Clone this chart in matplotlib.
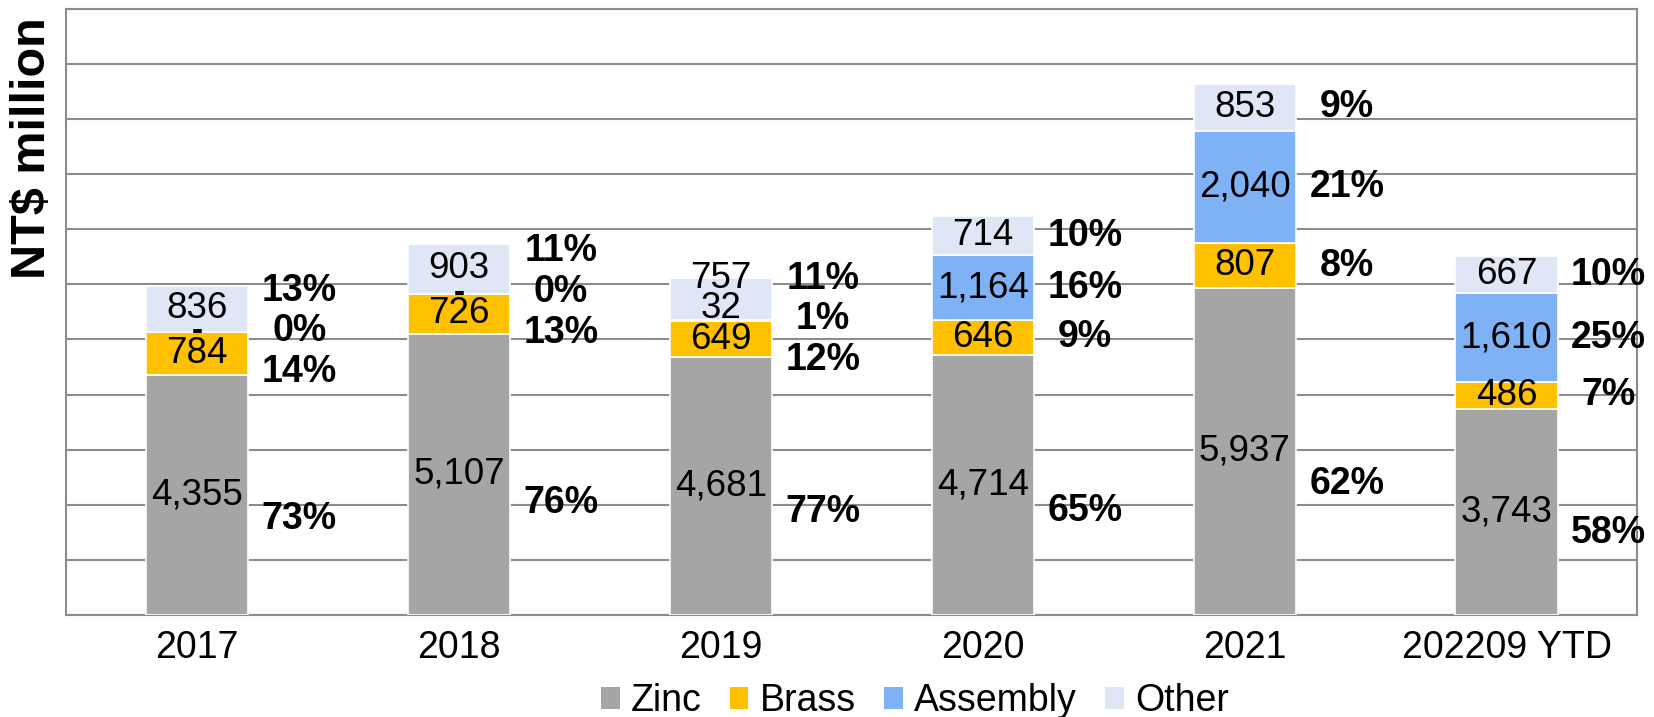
import matplotlib
matplotlib.use('Agg')
import matplotlib.pyplot as plt
import numpy as np
from matplotlib.patches import Patch

plt.rcParams['font.family'] = ['Liberation Sans', 'DejaVu Sans']

categories = ['2017', '2018', '2019', '2020', '2021', '202209 YTD']
zinc = [4355, 5107, 4681, 4714, 5937, 3743]
brass = [784, 726, 649, 646, 807, 486]
assembly = [0, 0, 32, 1164, 2040, 1610]
other = [836, 903, 757, 714, 853, 667]

zinc_pct = [73, 76, 77, 65, 62, 58]
brass_pct = [14, 13, 12, 9, 8, 7]
assembly_pct = [0, 0, 1, 16, 21, 25]
other_pct = [13, 11, 11, 10, 9, 10]

series = ['Zinc', 'Brass', 'Assembly', 'Other']
colors = ['#a5a5a5', '#ffc000', '#7fb1f5', '#dfe7f6']


def spread(centers, gap):
    # merge overlapping labels into clusters and space each cluster evenly
    clusters = [[c] for c in centers]

    def positions(cl):
        m = np.mean(cl)
        n = len(cl)
        return [m + (k - (n - 1) / 2) * gap for k in range(n)]

    changed = True
    while changed:
        changed = False
        for k in range(len(clusters) - 1):
            a = positions(clusters[k])
            b = positions(clusters[k + 1])
            if b[0] - a[-1] < gap - 1e-9:
                clusters[k] = clusters[k] + clusters.pop(k + 1)
                changed = True
                break
    out = []
    for cl in clusters:
        out += positions(cl)
    return out


def fmt(v):
    return '-' if v == 0 else f'{v:,}'


values = [zinc, brass, assembly, other]
pcts = [zinc_pct, brass_pct, assembly_pct, other_pct]
x = np.arange(len(categories))
width = 0.39

fig = plt.figure(figsize=(16.54, 7.17), dpi=100)
ax = fig.add_axes([0.040, 0.142, 0.950, 0.846])

bottom = np.zeros(len(categories))
for name, vals, c in zip(series, values, colors):
    ax.bar(x, vals, width, bottom=bottom, color=c, edgecolor='white',
           linewidth=1.2, label=name, zorder=3)
    bottom += np.array(vals)

for i in range(len(categories)):
    segs = [v[i] for v in values]
    base = np.concatenate([[0], np.cumsum(segs)[:-1]])
    centers = [b + s / 2 for b, s in zip(base, segs)]

    # value labels inside the bars, pushed up if they collide
    prev = -1e9
    for s, c in zip(segs, centers):
        if s == 0:
            ax.text(x[i], c, '-', ha='center', va='center', fontsize=24,
                    fontweight='bold', zorder=5)
            continue
        y = max(c, prev + 550)
        prev = y
        ax.text(x[i], y, fmt(s), ha='center', va='center', fontsize=26.5, zorder=5)

    # share labels to the right of the bars
    pc = [segs[0] * 0.4] + centers[1:]
    ys = spread(pc, 740)
    for p, y in zip([p[i] for p in pcts], ys):
        ax.text(x[i] + 0.39, y, f'{p}%', ha='center', va='center',
                fontsize=27, fontweight='bold', zorder=5)

ax.set_xlim(-0.5, len(categories) - 0.5)
ax.set_ylim(0, 11000)
ax.set_yticks(np.arange(0, 11001, 1000))
ax.set_yticklabels([])
ax.set_xticks(x)
ax.set_xticklabels(categories, fontsize=27)
ax.tick_params(length=0)
ax.tick_params(axis='x', pad=11)
ax.grid(axis='y', color='#8c8c8c', linewidth=1.5, zorder=0)
for sp in ax.spines.values():
    sp.set_color('#8c8c8c')
    sp.set_linewidth(1.5)

fig.text(0.0195, 0.793, 'NT$ million', rotation=90, ha='center', va='center',
         fontsize=35, fontweight='bold')

handles = [Patch(facecolor=c, label=n) for n, c in zip(series, colors)]
fig.legend(handles=handles, loc='center', bbox_to_anchor=(0.553, 0.022),
           ncol=4, frameon=False, fontsize=27, handlelength=0.5, handleheight=0.5,
           handletextpad=0.3, columnspacing=0.75, borderpad=0.1)

fig.savefig('out.png', dpi=100)
